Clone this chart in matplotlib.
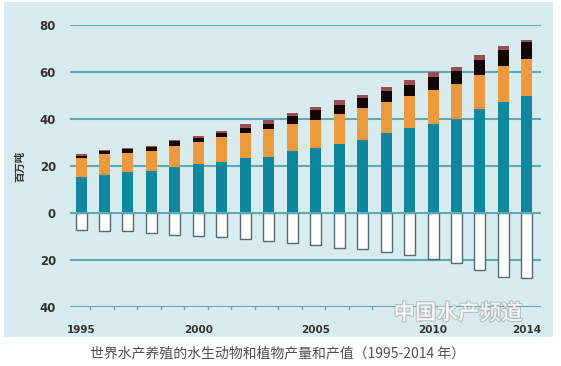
import matplotlib
matplotlib.use("Agg")
import matplotlib.pyplot as plt
from matplotlib.patches import Rectangle
import matplotlib.patheffects as pe
import numpy as np

plt.rcParams['font.family'] = ['Noto Sans CJK SC', 'DejaVu Sans']

years = list(range(1995, 2015))
finfish = [15.0, 16.2, 17.4, 17.8, 19.4, 20.7, 21.8, 23.1, 23.9, 26.1,
           27.5, 29.1, 31.1, 33.9, 36.1, 37.9, 39.9, 44.2, 47.0, 49.6]
molluscs = [8.5, 8.9, 8.1, 8.7, 9.2, 9.6, 10.4, 10.8, 11.6, 11.8,
            12.1, 13.0, 13.5, 13.1, 13.5, 14.2, 14.8, 14.5, 15.4, 15.7]
crustaceans = [0.7, 1.0, 1.6, 1.3, 1.9, 1.5, 1.7, 2.2, 2.1, 3.1,
               4.0, 3.9, 4.1, 4.7, 4.7, 5.8, 5.6, 6.4, 6.8, 7.3]
others = [0.6, 0.7, 0.5, 0.7, 0.6, 0.7, 0.9, 1.5, 1.7, 1.5,
          1.4, 1.9, 1.5, 1.7, 2.1, 1.9, 1.8, 1.9, 1.7, 1.2]
plants = [7.3, 7.8, 7.8, 8.8, 9.4, 9.8, 10.5, 11.4, 12.1, 13.1,
          13.9, 15.0, 15.6, 16.7, 18.2, 19.7, 21.5, 24.5, 27.5, 28.0]
ytick_vals = [-40, -20, 0, 20, 40, 60, 80]
ytick_labels = ['40', '20', '0', '20', '40', '60', '80']
xtick_years = [1995, 2000, 2005, 2010, 2014]
ylabel = '百万吨'
caption = '世界水产养殖的水生动物和植物产量和产值（1995-2014 年）'
watermark = '中国水产频道'

W, H = 561, 366
fig = plt.figure(figsize=(W / 100, H / 100), dpi=100)
fig.patch.set_facecolor('white')

# light blue panel in a background axes
bg = fig.add_axes([0, 0, 1, 1], zorder=-5)
bg.set_xlim(0, W)
bg.set_ylim(H, 0)
bg.axis('off')
bg.add_patch(Rectangle((4, 2), 549, 335, facecolor='#d8ecef', edgecolor='none'))

ax_left, ax_right = 70 / W, 541 / W
ax_top, ax_bottom = 1 - 25 / H, 1 - 306.5 / H
ax = fig.add_axes([ax_left, ax_bottom, ax_right - ax_left, ax_top - ax_bottom], zorder=1)
ax.set_facecolor('none')

x = np.array(years, dtype=float)
w = 0.47
c_teal = '#0e87a0'
c_orange = '#ee9a3c'
c_black = '#150606'
c_maroon = '#9a4d55'

f = np.array(finfish); m = np.array(molluscs); c = np.array(crustaceans); o = np.array(others)
ax.bar(x, f, w, color=c_teal, zorder=3)
ax.bar(x, m, w, bottom=f, color=c_orange, zorder=3)
ax.bar(x, c, w, bottom=f + m, color=c_black, zorder=3)
ax.bar(x, o, w, bottom=f + m + c, color=c_maroon, zorder=3)
ax.bar(x, -np.array(plants), w, color='white', edgecolor='#4f6e74', linewidth=1.0, zorder=3)

ax.set_xlim(1994.53, 2014.6)
ax.set_ylim(-40, 80)

grid_c = '#5fa9b2'
for v in ytick_vals:
    ax.axhline(v, color=grid_c, linewidth=1.5, zorder=2 if v != 0 else 4)

for s in ax.spines.values():
    s.set_visible(False)

ax.set_yticks(ytick_vals)
ax.set_yticklabels(ytick_labels, fontsize=8.5, fontweight='bold', color='#333333',
                   family=['DejaVu Sans'])
ax.tick_params(axis='y', length=0, pad=10)

ax.set_xticks(xtick_years)
ax.set_xticklabels([str(y) for y in xtick_years], fontsize=7.5, fontweight='bold',
                   color='#333333', family=['DejaVu Sans'])
ax.tick_params(axis='x', length=0, pad=13)

# small tick marks on bottom line
for yr in years[:-1]:
    ax.plot([yr + 0.4, yr + 0.4], [-40, -41.2], color=grid_c, linewidth=1, clip_on=False, zorder=2)

fig.text(20 / W, 1 - 166 / H, ylabel, rotation=90, ha='center', va='center',
         fontsize=7.5, color='#333333', fontweight='bold')

fig.text(277 / W, 1 - 353 / H, caption, ha='center', va='center', fontsize=10,
         color='#505050')

fig.text(458 / W, 1 - 313 / H, watermark, ha='center', va='center', fontsize=15.5,
         color='white', alpha=0.7, style='italic', fontweight='bold', zorder=10,
         path_effects=[pe.withStroke(linewidth=1.2, foreground='#9aa4a8')])

fig.savefig('out.png', dpi=100)
